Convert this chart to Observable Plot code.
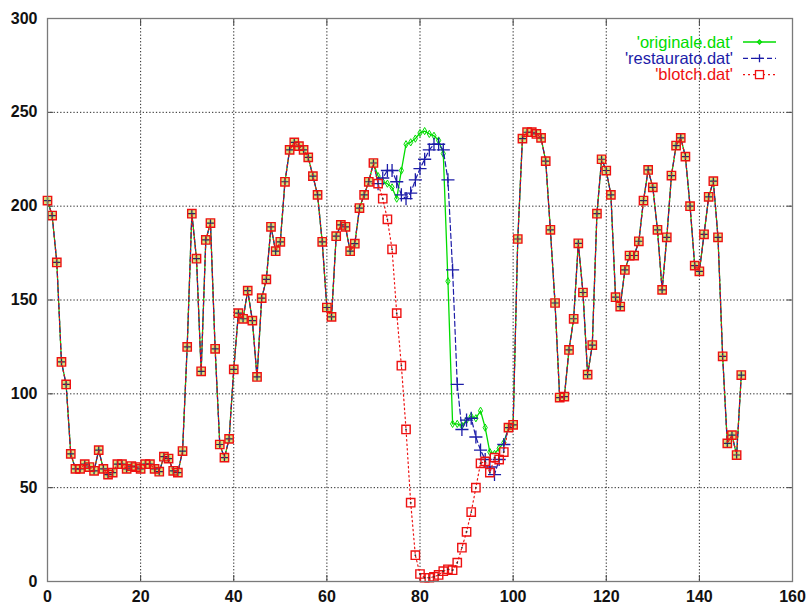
<!DOCTYPE html>
<html><head><meta charset="utf-8">
<script src="https://cdn.jsdelivr.net/npm/d3@7"></script>
<script src="https://cdn.jsdelivr.net/npm/@observablehq/plot@0.6"></script>
<style>
html,body{margin:0;padding:0;background:#fff;}
#wrap{position:relative;width:807px;height:605px;overflow:hidden;}
#legend{position:absolute;left:0;top:0;pointer-events:none;}
</style></head><body><div id="wrap"></div>
<script>
// sample index 0..149
const blotch = [203,195,170,117,105,68,60,60,62.5,61,59,70,60,57,58,62.5,62.5,60,61.5,61,
60,62.5,62.5,60,58.5,66.5,65.5,59,58,69.5,125,196,172,112,182,191,124,73,66,76,
113,143,140,155,139,109,151,161,189,176,181,213,230,234,232,230,226,216,206,181,
146,141,184,190,189,176,180,199,206,213,223,212,204,193,177,143,115,81,42,14,
4,2,2,2.5,3.5,5.5,6.5,6,10,18,26.5,37,50,63,64,58,66,65,69,82,
83.5,182.5,236,239.4,239.4,238.5,236.4,224,187.4,148.4,98,98.5,123.4,140,180.2,154,110.2,126,196,225,
219,206,151.5,146.5,166,173.7,173.7,181.3,203,219.3,210,187.4,155.4,183.4,216.3,232.3,236.4,226.4,200,168.3,
165.3,185,205,213.3,183.4,120,73.6,78,67.4,110];
const originale = [203,195,170,117,105,68,60,60,62.5,61,59,70,60,57,58,62.5,62.5,60,61.5,61,
60,62.5,62.5,60,58.5,66.5,65.5,59,58,69.5,125,196,172,112,182,191,124,73,66,76,
113,143,140,155,139,109,151,161,189,176,181,213,230,234,232,230,226,216,206,181,
146,141,184,190,189,176,180,199,206,213,223,216,213,212,210,204,219,233,234,236,
239,240,238.5,237.5,235,228,160,84,84,83,86,88,87,91,82,69,68,71,74,82,
83.5,182.5,236,239.4,239.4,238.5,236.4,224,187.4,148.4,98,98.5,123.4,140,180.2,154,110.2,126,196,225,
219,206,151.5,146.5,166,173.7,173.7,181.3,203,219.3,210,187.4,155.4,183.4,216.3,232.3,236.4,226.4,200,168.3,
165.3,185,205,213.3,183.4,120,73.6,78,67.4,110];
const restaurato = [203,195,170,117,105,68,60,60,62.5,61,59,70,60,57,58,62.5,62.5,60,61.5,61,
60,62.5,62.5,60,58.5,66.5,65.5,59,58,69.5,125,196,172,112,182,191,124,73,66,76,
113,143,140,155,139,109,151,161,189,176,181,213,230,234,232,230,226,216,206,181,
146,141,184,190,189,176,180,199,206,213,223,212,215,219,219,213,206,204,207,214,
220,225,230,233,233,230,214,166,105,81,86,87,77,70,65,61,57,65,73,82,
83.5,182.5,236,239.4,239.4,238.5,236.4,224,187.4,148.4,98,98.5,123.4,140,180.2,154,110.2,126,196,225,
219,206,151.5,146.5,166,173.7,173.7,181.3,203,219.3,210,187.4,155.4,183.4,216.3,232.3,236.4,226.4,200,168.3,
165.3,185,205,213.3,183.4,120,73.6,78,67.4,110];

const xTicks = [0,20,40,60,80,100,120,140,160];
const yTicks = [0,50,100,150,200,250,300];
const seriesNames = ["'originale.dat'", "'restaurato.dat'", "'blotch.dat'"];
const seriesColors = ["#00dc00", "#1c1ca8", "#ee1111"];

const rows = blotch.map((b, i) => ({x: i, o: originale[i], r: restaurato[i], b}));
const [cG, cB, cR] = seriesColors;
const shared = d => d.b === d.o && d.b === d.r;

const gridStyle = {stroke: "#000", strokeOpacity: 0.85, strokeWidth: 1, strokeDasharray: "1.3,2"};
const tickStyle = {tickFormat: () => "", label: null, stroke: "#444"};

const plot = Plot.plot({
  width: 807, height: 605,
  marginLeft: 47, marginRight: 15, marginTop: 18, marginBottom: 24,
  x: {domain: [0, 160]},
  y: {domain: [0, 300]},
  style: {fontFamily: "'Liberation Sans', Arial, sans-serif", fontSize: "16px", fontWeight: "bold", background: "white", color: "#111"},
  marks: [
    Plot.gridX(xTicks.slice(1, -1), gridStyle),
    Plot.gridY(yTicks.slice(1, -1), gridStyle),
    Plot.axisX(xTicks, {anchor: "bottom", tickSize: 0, tickPadding: 9, label: null}),
    Plot.axisY(yTicks, {anchor: "left", tickSize: 0, tickPadding: 10, label: null}),
    Plot.axisX(xTicks, {anchor: "bottom", tickSize: -6, ...tickStyle}),
    Plot.axisX(xTicks, {anchor: "top", tickSize: -6, ...tickStyle}),
    Plot.axisY(yTicks, {anchor: "left", tickSize: -6, ...tickStyle}),
    Plot.axisY(yTicks, {anchor: "right", tickSize: -6, ...tickStyle}),
    // originale
    Plot.line(rows, {x: "x", y: "o", stroke: cG, strokeWidth: 1.3}),
    Plot.dot(rows, {x: "x", y: "o", symbol: "diamond", r: 2.2, stroke: cG, strokeWidth: 1, fill: "none"}),
    // restaurato
    Plot.line(rows, {x: "x", y: "r", stroke: cB, strokeWidth: 1.2, strokeDasharray: "5,3"}),
    // blotch square fill
    Plot.dot(rows, {x: "x", y: "b", symbol: "square", r: 4.7, stroke: "none",
      fill: d => (shared(d) ? "#dcd870" : "white"), fillOpacity: 0.85}),
    Plot.dot(rows, {filter: d => !shared(d), x: "x", y: "r", symbol: "plus", r: 4.3, stroke: cB, strokeWidth: 1.3}),
    Plot.dot(rows, {filter: shared, x: "x", y: "r", symbol: "plus", r: 2.6, stroke: "#2a2a60", strokeWidth: 1.2}),
    Plot.line(rows, {x: "x", y: "b", stroke: cR, strokeWidth: 1.2, strokeDasharray: "1.5,3"}),
    Plot.dot(rows, {x: "x", y: "b", symbol: "square", r: 4.7, stroke: cR, strokeWidth: 1.4, fill: "none"}),
    Plot.dot(rows, {filter: d => !shared(d), x: "x", y: "b", r: 0.9, fill: "#333", stroke: "none"}),
    Plot.frame({stroke: "#7a7a7a", strokeWidth: 1.3})
  ]
});

const wrap = document.getElementById("wrap");
wrap.appendChild(plot);

// legend (inside the plot, top right)
const ns = "http://www.w3.org/2000/svg";
const lg = document.createElementNS(ns, "svg");
lg.setAttribute("id", "legend");
lg.setAttribute("width", 807);
lg.setAttribute("height", 605);
const textRight = 733, lineX1 = 743, lineX2 = 776, row0 = 42, rowStep = 16.3;
const dashes = [null, "5,3", "2,3"];
seriesNames.forEach((name, i) => {
  const cy = row0 + i * rowStep;
  const t = document.createElementNS(ns, "text");
  t.setAttribute("x", textRight);
  t.setAttribute("y", cy + 5.5);
  t.setAttribute("text-anchor", "end");
  t.setAttribute("fill", seriesColors[i]);
  t.setAttribute("font-family", "'Liberation Sans', Arial, sans-serif");
  t.setAttribute("font-size", "16.5px");
  t.textContent = name;
  lg.appendChild(t);
  const l = document.createElementNS(ns, "line");
  l.setAttribute("x1", lineX1); l.setAttribute("x2", lineX2);
  l.setAttribute("y1", cy); l.setAttribute("y2", cy);
  l.setAttribute("stroke", seriesColors[i]);
  l.setAttribute("stroke-width", 1.3);
  if (dashes[i]) l.setAttribute("stroke-dasharray", dashes[i]);
  lg.appendChild(l);
  const mx = (lineX1 + lineX2) / 2;
  let m;
  if (i === 0) {
    m = document.createElementNS(ns, "path");
    m.setAttribute("d", `M${mx-2},${cy}L${mx},${cy-2}L${mx+2},${cy}L${mx},${cy+2}Z`);
    m.setAttribute("fill", "none");
  } else if (i === 1) {
    m = document.createElementNS(ns, "path");
    m.setAttribute("d", `M${mx-4},${cy}H${mx+4}M${mx},${cy-4}V${cy+4}`);
  } else {
    m = document.createElementNS(ns, "rect");
    m.setAttribute("x", mx - 4); m.setAttribute("y", cy - 4);
    m.setAttribute("width", 8); m.setAttribute("height", 8);
    m.setAttribute("fill", "white");
  }
  m.setAttribute("stroke", seriesColors[i]);
  m.setAttribute("stroke-width", 1.3);
  lg.appendChild(m);
});
wrap.appendChild(lg);
</script>
</body></html>
